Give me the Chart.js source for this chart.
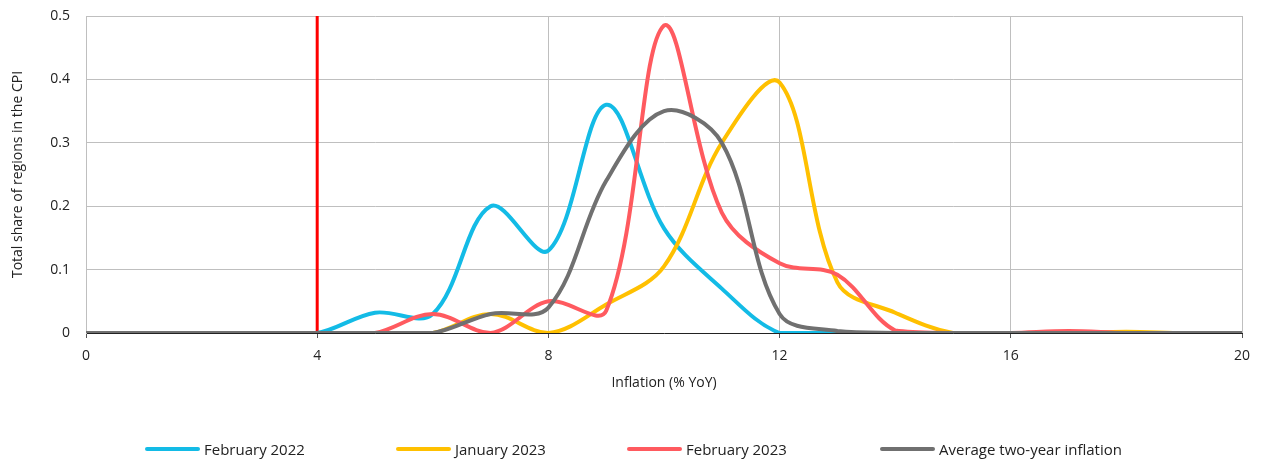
<!DOCTYPE html>
<html>
<head>
<meta charset="utf-8">
<script src="https://cdn.jsdelivr.net/npm/chart.js@4"></script>
<style>
  html, body { margin: 0; padding: 0; background: #fff; }
  #wrap { position: relative; width: 1263px; height: 461px; }
  #legend {
    position: absolute; left: 0; top: 439px; width: 1263px; height: 20px;
    font-family: "Open Sans", sans-serif; font-size: 15px; color: #222;
  }
  .item { position: absolute; top: 0; display: flex; align-items: center; gap: 4px; white-space: nowrap; }
  .swatch { width: 55px; height: 4px; border-radius: 2px; }
</style>
</head>
<body>
<div id="wrap">
  <canvas id="chart" width="1263" height="461"></canvas>
  <div id="legend"></div>
</div>
<script>
const xValues = [0, 1, 2, 3, 4, 5, 6, 7, 8, 9, 10, 11, 12, 13, 14, 15, 16, 17, 18, 19, 20];
const feb2022 = [0, 0, 0, 0, 0, 0.032, 0.03, 0.2, 0.13, 0.36, 0.165, 0.07, 0, 0, 0, 0, 0, 0, 0, 0, 0];
const jan2023 = [0, 0, 0, 0, 0, 0, 0, 0.03, 0, 0.045, 0.105, 0.3, 0.395, 0.08, 0.032, 0, 0, 0, 0.002, 0, 0];
const feb2023 = [0, 0, 0, 0, 0, 0, 0.03, 0, 0.05, 0.035, 0.485, 0.19, 0.11, 0.092, 0.004, 0, 0, 0.003, 0, 0, 0];
const avgTwoYear = [0, 0, 0, 0, 0, 0, 0, 0.03, 0.04, 0.24, 0.35, 0.3, 0.03, 0.003, 0, 0, 0, 0, 0, 0, 0];
const targetX = [4, 4];
const targetY = [0, 0.5];

const seriesNames = ['February 2022', 'January 2023', 'February 2023', 'Average two-year inflation'];
const seriesColors = ['#13bbe6', '#ffc000', '#ff5a5f', '#707070'];
const seriesValues = [feb2022, jan2023, feb2023, avgTwoYear];
const seriesOrder = [4, 3, 2, 1];
const legendLeft = [145, 396, 627, 880];

const toPoints = (xs, ys) => xs.map((x, i) => ({ x: x, y: ys[i] }));

const datasets = seriesValues.map((vals, i) => ({
    label: seriesNames[i],
    data: toPoints(xValues, vals),
    borderColor: seriesColors[i],
    backgroundColor: seriesColors[i],
    borderWidth: 4,
    pointRadius: 0,
    tension: 0.35,
    order: seriesOrder[i]
}));

datasets.push({
    label: 'target',
    data: toPoints(targetX, targetY),
    borderColor: '#ff0000',
    borderWidth: 3,
    pointRadius: 0,
    tension: 0,
    order: 5
});

const font = { family: '"Open Sans", sans-serif', size: 14 };

new Chart(document.getElementById('chart').getContext('2d'), {
    type: 'line',
    data: { datasets: datasets },
    options: {
        responsive: false,
        animation: false,
        layout: { padding: { top: 16, right: 21, bottom: 58, left: 0 } },
        plugins: {
            legend: { display: false },
            tooltip: { enabled: false }
        },
        scales: {
            x: {
                type: 'linear',
                min: 0,
                max: 20,
                ticks: { stepSize: 4, color: '#222', font: font, padding: 10, maxRotation: 0 },
                grid: { color: '#bfbfbf', tickColor: '#555', tickLength: 5 },
                border: { color: '#222', width: 1 },
                title: { display: true, text: 'Inflation (% YoY)', color: '#222', font: font, padding: { top: 4, bottom: 12 } },
                afterFit: (scale) => { scale.height = 70; }
            },
            y: {
                min: 0,
                max: 0.5,
                ticks: { stepSize: 0.1, color: '#222', font: font, padding: 16 },
                grid: { color: '#bfbfbf', drawTicks: false },
                border: { color: '#bfbfbf' },
                title: { display: true, text: 'Total share of regions in the CPI', color: '#222', font: font, padding: { top: 10, bottom: 4 } },
                afterFit: (scale) => {
                    scale.width = 86;
                    scale.paddingTop = 0;
                    scale.paddingBottom = 0;
                }
            }
        }
    }
});

// legend built as html
const legendEl = document.getElementById('legend');
seriesNames.forEach((name, i) => {
    const item = document.createElement('div');
    item.className = 'item';
    item.style.left = legendLeft[i] + 'px';
    const sw = document.createElement('span');
    sw.className = 'swatch';
    sw.style.background = seriesColors[i];
    const txt = document.createElement('span');
    txt.textContent = name;
    item.appendChild(sw);
    item.appendChild(txt);
    legendEl.appendChild(item);
});
</script>
</body>
</html>
